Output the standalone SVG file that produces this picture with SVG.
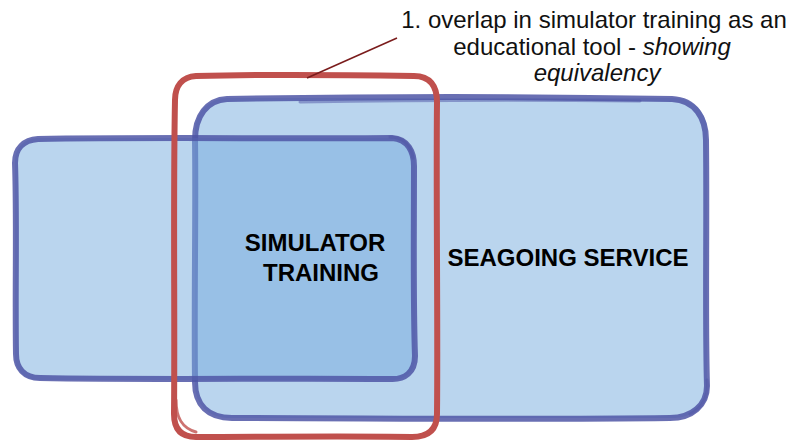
<svg xmlns="http://www.w3.org/2000/svg" width="790" height="441" viewBox="0 0 790 441">
<style>
.fill{fill:#75abdd;fill-opacity:0.5}
.blue{fill:none;stroke:#4f56a6;stroke-opacity:0.85;stroke-width:6;stroke-linejoin:round;stroke-linecap:round}
.blue2{fill:none;stroke:#4f56a6;stroke-opacity:0.5;stroke-width:3;stroke-linecap:round}
.red{fill:none;stroke:#c0504d;stroke-width:6;stroke-linejoin:round;stroke-linecap:round}
.red2{fill:none;stroke:#c0504d;stroke-opacity:0.8;stroke-width:3;stroke-linecap:round}
.lbl{font-family:"Liberation Sans",Arial,sans-serif;font-weight:bold;font-size:24px;fill:#000;text-anchor:middle}
.note{font-family:"Liberation Sans",Arial,sans-serif;font-size:24px;fill:#111;text-anchor:middle}
.lead{stroke:#7a1c1c;stroke-width:1.6;fill:none}
</style>
<g id="seagoing-service">
<rect class="fill" x="195" y="98" width="512" height="320" rx="32"/>
<path class="blue" d="M227 99 C400 96 560 97 672 99 C695 100 706 118 706 140 C707 230 705 320 707 386 C707 405 692 418 670 418 C520 420 360 418 232 418 C208 418 195 405 195 382 C194 300 196 210 195 140 C195 116 207 100 227 99 Z"/>
<path class="blue2" d="M300 102 C420 100 540 100 640 101 M707 380 C709 395 703 408 690 414"/>
<text class="lbl" x="568" y="266">SEAGOING SERVICE</text>
</g>
<g id="simulator-training">
<rect class="fill" x="15" y="138" width="400" height="242" rx="22"/>
<path class="blue" d="M38 139 C150 137 280 139 392 138 C408 139 414 152 414 166 C414 230 413 300 415 356 C415 372 405 380 390 379 C280 378 150 380 40 378 C24 378 16 368 16 354 C15 290 17 220 15 163 C15 148 24 140 38 139 Z"/>
<path class="blue2" d="M390 137 C404 137 411 146 413 158"/>
<text class="lbl" x="315" y="251">SIMULATOR</text>
<text class="lbl" x="321" y="281">TRAINING</text>
</g>
<g id="overlap-highlight">
<path class="red" d="M196 76 C270 74 350 75 414 76 C430 76 437 86 437 102 C436 200 438 320 437 414 C437 430 428 437 412 437 C340 436 270 437 196 437 C182 437 174 430 174 414 C175 320 173 200 175 100 C175 86 182 77 196 76 Z"/>
<path class="red2" d="M176 400 C176 418 182 428 196 432"/>
</g>
<g id="connectors">
<line class="lead" x1="307" y1="78" x2="397" y2="38"/>
</g>
<g id="annotation">
<text class="note" x="594" y="28">1. overlap in simulator training as an</text>
<text class="note" x="592" y="55">educational tool - <tspan font-style="italic">showing</tspan></text>
<text class="note" x="597" y="81" font-style="italic">equivalency</text>
</g>
</svg>
